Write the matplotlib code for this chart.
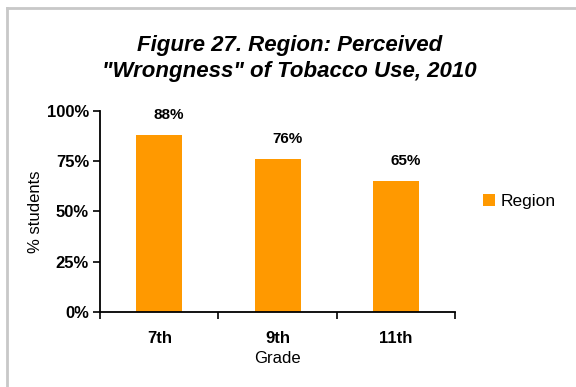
import matplotlib
matplotlib.use("Agg")
import matplotlib.pyplot as plt
from matplotlib.lines import Line2D

grades = ["7th", "9th", "11th"]
region = [0.88, 0.76, 0.65]
value_labels = ["88%", "76%", "65%"]
yticks = [0, 0.25, 0.5, 0.75, 1.0]
ytick_labels = ["0%", "25%", "50%", "75%", "100%"]

plt.rcParams['font.family'] = ['Liberation Sans', 'DejaVu Sans']

fig = plt.figure(figsize=(5.76, 3.87), dpi=100)
ax = fig.add_axes([0.174, 0.194, 0.616, 0.519])

x = range(len(grades))
ax.bar(x, region, width=0.39, color="#FF9900", label="Region")
for xi, v, lab in zip(x, region, value_labels):
    ax.text(xi + 0.08, v + 0.065, lab, ha="center", va="bottom", fontsize=11, fontweight="bold")

ax.set_xlim(-0.5, len(grades) - 0.5)
ax.set_ylim(0, 1)
ax.set_yticks(yticks)
ax.set_yticklabels(ytick_labels, fontweight="bold", fontsize=12)
ax.set_xticks(list(x))
ax.set_xticklabels(grades, fontweight="bold", fontsize=12)
ax.tick_params(axis="x", length=0, pad=14)
ax.set_xticks([i - 0.5 for i in range(len(grades) + 1)], minor=True)
ax.tick_params(axis="x", which="minor", length=5, width=1.2, direction="out")
ax.tick_params(axis="y", length=5, width=1.2, direction="out", pad=3)

for s in ["top", "right"]:
    ax.spines[s].set_visible(False)
for s in ["left", "bottom"]:
    ax.spines[s].set_linewidth(1.3)

ax.set_xlabel("Grade", fontsize=12, labelpad=3)
ax.set_ylabel("% students", fontsize=12, labelpad=3)

fig.text(0.503, 0.849, "Figure 27. Region: Perceived\n\"Wrongness\" of Tobacco Use, 2010",
         ha="center", va="center", fontsize=16, fontweight="bold", style="italic", linespacing=1.3)

ax.legend(loc="center left", bbox_to_anchor=(1.035, 0.55), frameon=False, fontsize=12.5,
          handlelength=0.7, handleheight=0.7, handletextpad=0.3)

# grey frame on top and left edges
fig.add_artist(Line2D([0.013, 1.0], [0.979, 0.979], transform=fig.transFigure, color="#C8C8C8", lw=2))
fig.add_artist(Line2D([0.013, 0.013], [0.0, 0.979], transform=fig.transFigure, color="#C8C8C8", lw=2))

fig.savefig("out.png", dpi=100)
